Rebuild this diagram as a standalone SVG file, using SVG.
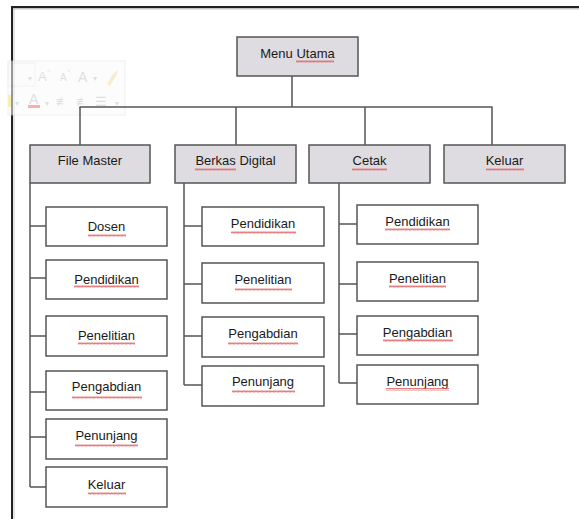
<svg xmlns="http://www.w3.org/2000/svg" width="579" height="519" viewBox="0 0 579 519">
<style>
.box{fill:#ffffff;stroke:#555;stroke-width:1.5}
.hdr{fill:#dedce1;stroke:#555;stroke-width:1.5}
.lbl{font-family:"Liberation Sans",Arial,sans-serif;font-size:13px;fill:#1a1a1a;text-anchor:middle}
.con line{stroke:#555;stroke-width:1.5}
.sq{fill:url(#wave)}
.tb{font-family:"Liberation Sans",Arial,sans-serif;fill:#c4c6d0}
</style>
<defs>
<pattern id="wave" x="0" y="0" width="4" height="3" patternUnits="userSpaceOnUse">
<path d="M0,2.5 L1,0.5 L2,2.5 L3,0.5 L4,2.5" fill="none" stroke="#e06060" stroke-width="0.8"/>
</pattern>
</defs>
<rect width="579" height="519" fill="#ffffff"/>
<!-- page frame -->
<g id="frame">
<line x1="12" y1="7" x2="579" y2="7" stroke="#222" stroke-width="2"/>
<line x1="12" y1="8.8" x2="579" y2="8.8" stroke="#aaa" stroke-width="1"/>
<line x1="12" y1="6" x2="12" y2="519" stroke="#222" stroke-width="2"/>
<line x1="14" y1="9" x2="14" y2="519" stroke="#bbb" stroke-width="0.8"/>
</g>
<!-- faded mini toolbar -->
<g id="toolbar" opacity="0.55">
<rect x="8" y="61" width="117" height="54" fill="#fafafa" stroke="#e4e4e4"/>
<rect x="8" y="63" width="27" height="23" fill="none" stroke="#e8e8e8"/>
<text class="tb" x="28" y="81" font-size="8">▾</text>
<text class="tb" x="38" y="81" font-size="13">A</text>
<text class="tb" x="47" y="73" font-size="6">˄</text>
<text class="tb" x="60" y="81" font-size="10">A</text>
<text class="tb" x="67" y="73" font-size="6">˅</text>
<text class="tb" x="78" y="82" font-size="14" fill="#b8c4e8">A</text>
<text class="tb" x="93" y="81" font-size="8">▾</text>
<path d="M107,84 L113,74 L118,70 L116,76 L110,86 Z" fill="#f0e0a0"/>
<rect x="8" y="95" width="3" height="12" fill="#f3e27a"/>
<text class="tb" x="15" y="106" font-size="8">▾</text>
<text class="tb" x="29" y="104" font-size="14">A</text>
<rect x="28" y="105" width="12" height="3" fill="#f07070"/>
<text class="tb" x="45" y="106" font-size="8">▾</text>
<text class="tb" x="56" y="106" font-size="13">≢</text>
<text class="tb" x="76" y="106" font-size="13">≢</text>
<text class="tb" x="95" y="106" font-size="13">☰</text>
<text class="tb" x="115" y="106" font-size="8">▾</text>
</g>
<!-- connectors -->
<g id="connectors" class="con">
<line x1="292" y1="76" x2="292" y2="107"/>
<line x1="79.5" y1="107" x2="492.5" y2="107"/>
<line x1="80" y1="107" x2="80" y2="145"/>
<line x1="236" y1="107" x2="236" y2="145"/>
<line x1="365" y1="107" x2="365" y2="145"/>
<line x1="492" y1="107" x2="492" y2="145"/>
<line x1="30" y1="183" x2="30" y2="487"/>
<line x1="30" y1="226" x2="46" y2="226"/>
<line x1="30" y1="278" x2="46" y2="278"/>
<line x1="30" y1="336" x2="46" y2="336"/>
<line x1="30" y1="392" x2="46" y2="392"/>
<line x1="30" y1="437" x2="46" y2="437"/>
<line x1="30" y1="487" x2="46" y2="487"/>
<line x1="184" y1="183" x2="184" y2="385"/>
<line x1="184" y1="226" x2="202" y2="226"/>
<line x1="184" y1="284" x2="202" y2="284"/>
<line x1="184" y1="336" x2="202" y2="336"/>
<line x1="184" y1="385" x2="202" y2="385"/>
<line x1="339" y1="183" x2="339" y2="383"/>
<line x1="339" y1="224" x2="357" y2="224"/>
<line x1="339" y1="284" x2="357" y2="284"/>
<line x1="339" y1="334" x2="357" y2="334"/>
<line x1="339" y1="383" x2="357" y2="383"/>
</g>
<!-- root -->
<g id="menu-utama">
<rect class="hdr" x="237" y="37" width="121" height="39"/>
<text class="lbl" x="297.5" y="58">Menu Utama</text>
<rect class="sq" x="296" y="60" width="38" height="3"/>
</g>
<!-- headers -->
<g id="file-master">
<rect class="hdr" x="30" y="145" width="120" height="38"/>
<text class="lbl" x="90" y="165">File Master</text>
</g>
<g id="berkas-digital">
<rect class="hdr" x="175" y="145" width="121" height="38"/>
<text class="lbl" x="235.5" y="165">Berkas Digital</text>
<rect class="sq" x="195" y="168" width="41" height="3"/>
</g>
<g id="cetak">
<rect class="hdr" x="309" y="145" width="121" height="38"/>
<text class="lbl" x="369.5" y="165">Cetak</text>
<rect class="sq" x="352" y="168" width="35" height="3"/>
</g>
<g id="keluar">
<rect class="hdr" x="444" y="145" width="121" height="38"/>
<text class="lbl" x="504.5" y="165">Keluar</text>
<rect class="sq" x="486" y="168" width="38" height="3"/>
</g>
<!-- File Master children -->
<g id="fm-dosen">
<rect class="box" x="46" y="207" width="121" height="39"/>
<text class="lbl" x="106.5" y="231">Dosen</text>
<rect class="sq" x="88" y="234" width="38" height="3"/>
</g>
<g id="fm-pendidikan">
<rect class="box" x="46" y="260" width="121" height="39"/>
<text class="lbl" x="106.5" y="283.5">Pendidikan</text>
<rect class="sq" x="74" y="285" width="65" height="3"/>
</g>
<g id="fm-penelitian">
<rect class="box" x="46" y="316" width="121" height="40"/>
<text class="lbl" x="106.5" y="340">Penelitian</text>
<rect class="sq" x="78" y="342" width="57" height="3"/>
</g>
<g id="fm-pengabdian">
<rect class="box" x="46" y="371" width="121" height="39"/>
<text class="lbl" x="106.5" y="391">Pengabdian</text>
<rect class="sq" x="72" y="396" width="70" height="3"/>
</g>
<g id="fm-penunjang">
<rect class="box" x="46" y="419" width="121" height="40"/>
<text class="lbl" x="106.5" y="440">Penunjang</text>
<rect class="sq" x="75" y="444" width="63" height="3"/>
</g>
<g id="fm-keluar">
<rect class="box" x="46" y="467" width="121" height="40"/>
<text class="lbl" x="106.5" y="489">Keluar</text>
<rect class="sq" x="88" y="492" width="38" height="3"/>
</g>
<!-- Berkas Digital children -->
<g id="bd-pendidikan">
<rect class="box" x="202" y="207" width="122" height="39"/>
<text class="lbl" x="263" y="228">Pendidikan</text>
<rect class="sq" x="231" y="231" width="65" height="3"/>
</g>
<g id="bd-penelitian">
<rect class="box" x="202" y="263" width="122" height="40"/>
<text class="lbl" x="263" y="284">Penelitian</text>
<rect class="sq" x="235" y="288" width="57" height="3"/>
</g>
<g id="bd-pengabdian">
<rect class="box" x="202" y="317" width="122" height="40"/>
<text class="lbl" x="263" y="338">Pengabdian</text>
<rect class="sq" x="228" y="342" width="70" height="3"/>
</g>
<g id="bd-penunjang">
<rect class="box" x="202" y="366" width="122" height="40"/>
<text class="lbl" x="263" y="386">Penunjang</text>
<rect class="sq" x="232" y="390" width="63" height="3"/>
</g>
<!-- Cetak children -->
<g id="ct-pendidikan">
<rect class="box" x="357" y="205" width="121" height="39"/>
<text class="lbl" x="417.5" y="226">Pendidikan</text>
<rect class="sq" x="385" y="228" width="65" height="3"/>
</g>
<g id="ct-penelitian">
<rect class="box" x="357" y="262" width="121" height="39"/>
<text class="lbl" x="417.5" y="283">Penelitian</text>
<rect class="sq" x="389" y="285" width="57" height="3"/>
</g>
<g id="ct-pengabdian">
<rect class="box" x="357" y="316" width="121" height="39"/>
<text class="lbl" x="417.5" y="337">Pengabdian</text>
<rect class="sq" x="383" y="339" width="70" height="3"/>
</g>
<g id="ct-penunjang">
<rect class="box" x="357" y="365" width="121" height="39"/>
<text class="lbl" x="417.5" y="386">Penunjang</text>
<rect class="sq" x="386" y="388" width="63" height="3"/>
</g>
</svg>
